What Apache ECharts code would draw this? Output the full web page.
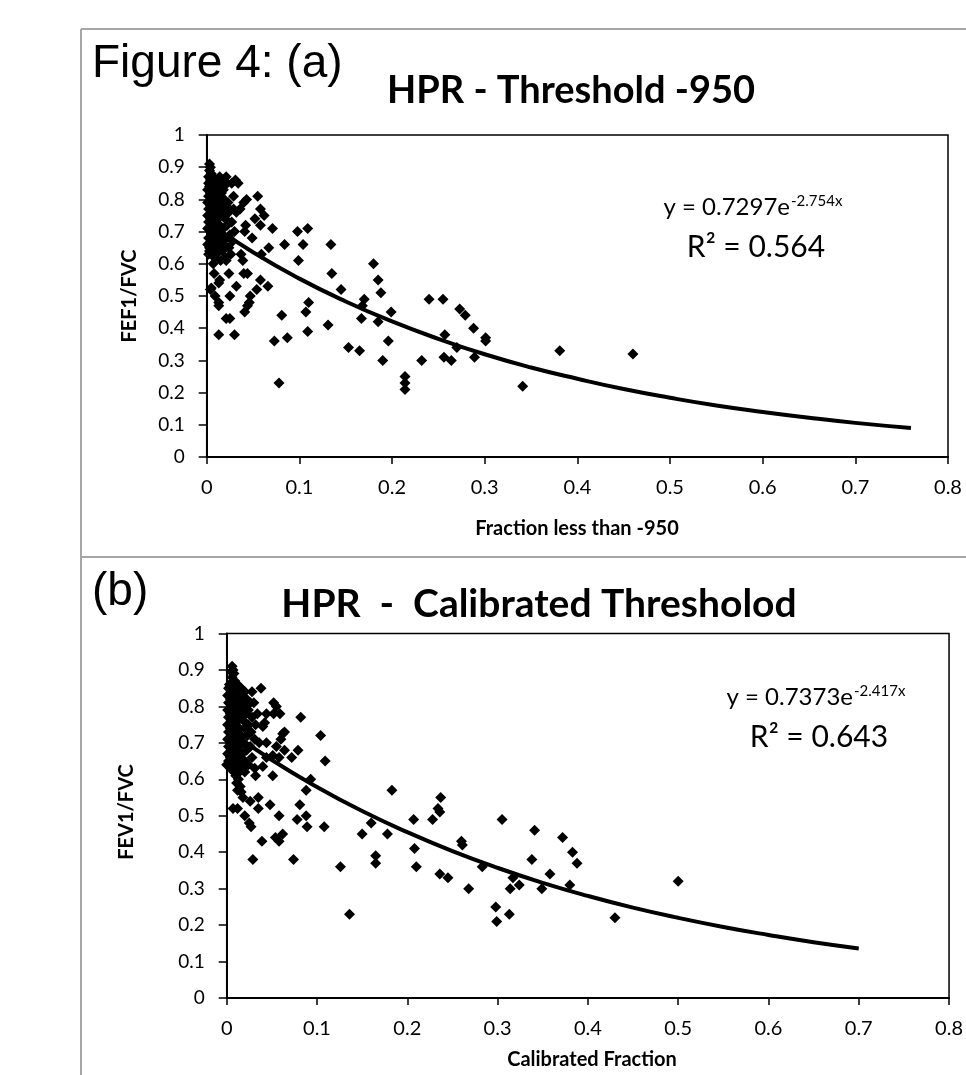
<!DOCTYPE html>
<html><head><meta charset="utf-8">
<script src="https://cdn.jsdelivr.net/npm/echarts@6/dist/echarts.min.js"></script>
<style>html,body{margin:0;padding:0;background:#fff}#c{width:966px;height:1075px}</style>
</head><body><div id="c"></div>
<script>
// ---------- DATA ----------
const titleA = 'HPR - Threshold -950';
const titleB = 'HPR  -  Calibrated Thresholod';
const xNameA = 'Fraction less than -950';
const xNameB = 'Calibrated Fraction';
const yNameA = 'FEF1/FVC';
const yNameB = 'FEV1/FVC';
const eqA = ['y = 0.7297e', '-2.754x', 'R² = 0.564'];
const eqB = ['y = 0.7373e', '-2.417x', 'R² = 0.643'];

// Panel (a) scatter points [fraction, FEF1/FVC]
const pointsA = [
  [0.003,0.91],[0.004,0.90],[0.003,0.89],[0.005,0.88],[0.002,0.87],[0.006,0.87],[0.004,0.86],[0.008,0.86],
  [0.002,0.85],[0.007,0.85],[0.011,0.85],[0.003,0.84],[0.009,0.84],[0.013,0.84],[0.001,0.83],[0.006,0.83],
  [0.012,0.83],[0.004,0.82],[0.010,0.82],[0.016,0.82],[0.002,0.81],[0.008,0.81],[0.014,0.81],[0.005,0.80],
  [0.011,0.80],[0.019,0.80],[0.001,0.79],[0.007,0.79],[0.015,0.79],[0.004,0.78],[0.010,0.78],[0.021,0.78],
  [0.002,0.77],[0.008,0.77],[0.013,0.77],[0.018,0.77],[0.005,0.76],[0.011,0.76],[0.024,0.76],[0.001,0.75],
  [0.007,0.75],[0.016,0.75],[0.004,0.74],[0.012,0.74],[0.020,0.74],[0.002,0.73],[0.009,0.73],[0.027,0.73],
  [0.006,0.72],[0.014,0.72],[0.022,0.72],[0.001,0.71],[0.010,0.71],[0.018,0.71],[0.004,0.70],[0.012,0.70],
  [0.030,0.70],[0.007,0.69],[0.017,0.69],[0.025,0.69],[0.002,0.68],[0.011,0.68],[0.021,0.68],[0.005,0.67],
  [0.015,0.67],[0.028,0.67],[0.001,0.66],[0.009,0.66],[0.019,0.66],[0.003,0.65],[0.013,0.65],[0.024,0.65],
  [0.006,0.64],[0.017,0.64],[0.002,0.63],[0.010,0.63],[0.008,0.62],[0.020,0.62],[0.015,0.61],[0.003,0.64],
  [0.014,0.87],[0.018,0.86],[0.022,0.85],
  [0.055,0.81],[0.058,0.77],[0.062,0.75],[0.052,0.74],[0.058,0.72],[0.042,0.72],[0.041,0.70],[0.071,0.71],
  [0.049,0.68],[0.067,0.65],[0.059,0.63],[0.084,0.66],[0.098,0.70],[0.109,0.71],[0.104,0.66],[0.099,0.61],
  [0.134,0.66],[0.135,0.57],[0.145,0.52],[0.180,0.60],[0.185,0.55],[0.188,0.51],[0.170,0.49],[0.168,0.47],
  [0.167,0.43],[0.185,0.42],[0.199,0.45],[0.196,0.36],[0.190,0.30],[0.153,0.34],[0.165,0.33],[0.131,0.41],
  [0.109,0.39],[0.107,0.45],[0.110,0.48],[0.081,0.44],[0.087,0.37],[0.073,0.36],[0.078,0.23],[0.066,0.53],
  [0.058,0.55],[0.054,0.52],[0.047,0.50],[0.046,0.48],[0.044,0.47],[0.041,0.45],[0.039,0.61],[0.037,0.63],
  [0.040,0.57],[0.044,0.57],[0.032,0.53],[0.025,0.50],[0.025,0.43],[0.021,0.43],[0.030,0.38],[0.013,0.38],
  [0.013,0.47],[0.013,0.48],[0.009,0.50],[0.004,0.52],[0.005,0.525],[0.013,0.54],[0.014,0.55],[0.024,0.57],
  [0.026,0.63],[0.021,0.61],[0.007,0.60],[0.008,0.57],[0.021,0.87],[0.027,0.85],[0.034,0.85],[0.031,0.86],
  [0.029,0.81],[0.043,0.80],[0.040,0.79],[0.036,0.77],[0.032,0.76],[0.029,0.77],[0.018,0.83],[0.016,0.845],
  [0.023,0.79],
  [0.240,0.49],[0.255,0.49],[0.257,0.38],[0.270,0.34],[0.273,0.46],[0.279,0.44],[0.288,0.40],[0.301,0.37],
  [0.301,0.36],[0.289,0.31],[0.264,0.30],[0.256,0.31],[0.232,0.30],[0.214,0.25],[0.214,0.23],[0.214,0.21],
  [0.341,0.22],[0.381,0.33],[0.460,0.32]
];

// Panel (b) scatter points [calibrated fraction, FEV1/FVC]
const pointsB = [
  [0.006,0.91],[0.007,0.90],[0.005,0.895],[0.008,0.89],[0.006,0.88],[0.009,0.87],[0.003,0.86],[0.007,0.86],
  [0.012,0.86],[0.002,0.85],[0.010,0.85],[0.016,0.85],[0.005,0.84],[0.013,0.84],[0.020,0.84],[0.001,0.83],
  [0.008,0.83],[0.017,0.83],[0.004,0.82],[0.011,0.82],[0.022,0.82],[0.002,0.81],[0.009,0.81],[0.015,0.81],
  [0.026,0.81],[0.006,0.80],[0.013,0.80],[0.020,0.80],[0.030,0.81],[0.001,0.79],[0.010,0.79],[0.017,0.79],
  [0.024,0.79],[0.004,0.78],[0.012,0.78],[0.021,0.78],[0.034,0.78],[0.002,0.77],[0.008,0.77],[0.015,0.77],
  [0.028,0.77],[0.005,0.76],[0.012,0.76],[0.019,0.76],[0.001,0.75],[0.009,0.75],[0.024,0.75],[0.032,0.75],
  [0.004,0.74],[0.014,0.74],[0.020,0.74],[0.002,0.73],[0.010,0.73],[0.027,0.73],[0.006,0.72],[0.016,0.72],
  [0.023,0.72],[0.001,0.71],[0.012,0.71],[0.031,0.71],[0.004,0.70],[0.009,0.70],[0.019,0.70],[0.036,0.70],
  [0.002,0.69],[0.014,0.69],[0.026,0.69],[0.006,0.68],[0.011,0.68],[0.022,0.68],[0.001,0.67],[0.008,0.67],
  [0.017,0.67],[0.004,0.66],[0.012,0.66],[0.028,0.66],[0.002,0.65],[0.009,0.65],[0.020,0.65],[0.000,0.64],
  [0.006,0.64],[0.015,0.64],[0.004,0.63],[0.011,0.63],[0.018,0.63],[0.008,0.62],[0.014,0.62],[0.010,0.61],
  [0.013,0.60],[0.011,0.59],[0.015,0.58],[0.012,0.57],[0.016,0.565],[0.020,0.62],[0.024,0.64],
  [0.038,0.85],[0.028,0.84],[0.018,0.845],[0.052,0.81],[0.055,0.80],[0.059,0.78],[0.052,0.78],[0.044,0.78],
  [0.082,0.77],[0.042,0.755],[0.040,0.745],[0.064,0.73],[0.062,0.725],[0.060,0.71],[0.044,0.70],[0.055,0.69],
  [0.064,0.68],[0.079,0.68],[0.104,0.72],[0.109,0.65],[0.072,0.66],[0.058,0.66],[0.051,0.665],[0.044,0.66],
  [0.040,0.635],[0.031,0.63],[0.032,0.61],[0.051,0.61],[0.093,0.60],[0.088,0.57],[0.081,0.53],[0.078,0.49],
  [0.088,0.50],[0.089,0.47],[0.108,0.47],[0.183,0.57],[0.058,0.50],[0.062,0.45],[0.058,0.43],[0.054,0.44],
  [0.048,0.53],[0.035,0.55],[0.035,0.52],[0.026,0.54],[0.025,0.48],[0.027,0.47],[0.020,0.50],[0.018,0.55],
  [0.007,0.52],[0.012,0.52],[0.039,0.43],[0.029,0.38],[0.074,0.38],[0.126,0.36],[0.136,0.23],[0.150,0.45],
  [0.160,0.48],[0.165,0.39],[0.165,0.37],[0.178,0.45],[0.207,0.49],[0.208,0.41],[0.210,0.36],[0.228,0.49],
  [0.234,0.52],[0.236,0.51],[0.237,0.55],[0.236,0.34],[0.245,0.33],[0.260,0.43],[0.261,0.42],[0.268,0.30],
  [0.283,0.36],[0.298,0.25],[0.299,0.21],[0.305,0.49],[0.313,0.23],[0.314,0.30],[0.317,0.33],[0.324,0.31],
  [0.338,0.38],[0.341,0.46],[0.349,0.30],[0.358,0.34],[0.372,0.44],[0.380,0.31],[0.383,0.40],[0.388,0.37],
  [0.430,0.22],[0.500,0.32]
];

// Exponential trendlines as drawn
const trendAX = [0,0.05,0.1,0.15,0.2,0.25,0.3,0.35,0.4,0.45,0.5,0.55,0.6,0.65,0.7,0.76];
const trendAY = [0.730,0.636,0.554,0.483,0.421,0.367,0.319,0.278,0.243,0.211,0.184,0.160,0.140,0.122,0.106,0.090];
const trendBX = [0,0.05,0.1,0.15,0.2,0.25,0.3,0.35,0.4,0.45,0.5,0.55,0.6,0.65,0.7];
const trendBY = [0.737,0.653,0.579,0.513,0.455,0.403,0.357,0.316,0.280,0.248,0.220,0.195,0.173,0.153,0.136];

// Axis ranges / ticks
const xMin = 0, xMax = 0.8, xStep = 0.1;
const yMin = 0, yMax = 1, yStep = 0.1;

// ---------- CHART ----------
const chart = echarts.init(document.getElementById('c'), null, {renderer:'canvas'});
const fmt = v => String(Math.round(v*10)/10);
const LATO = 'Lato, "Open Sans", sans-serif';
const ARIAL = '"Liberation Sans", Arial, sans-serif';

function xAx(g){
  return {type:'value', gridIndex:g, min:xMin, max:xMax, interval:xStep,
    axisLine:{show:true, onZero:false, lineStyle:{color:'#000', width:2}},
    axisTick:{show:true, length:7, lineStyle:{color:'#000', width:1.5}},
    axisLabel:{color:'#000', fontFamily:LATO, fontSize:20, margin:21, formatter:fmt},
    splitLine:{show:false}};
}
function yAx(g){
  return {type:'value', gridIndex:g, min:yMin, max:yMax, interval:yStep,
    axisLine:{show:true, onZero:false, lineStyle:{color:'#000', width:2}},
    axisTick:{show:true, length:8, lineStyle:{color:'#000', width:1.5}},
    axisLabel:{color:'#000', fontFamily:LATO, fontSize:19, margin:22, formatter:fmt},
    splitLine:{show:false}};
}
function txt(x, y, text, font, align, rot){
  return {type:'text', x:x, y:y, rotation:rot||0, z:100,
    style:{text:text, font:font, fill:'#000', align:align||'center', textAlign:align||'center',
           verticalAlign:'middle', textVerticalAlign:'middle'}};
}
const gray = '#a6a6a6';
const graphic = [
  {type:'line', shape:{x1:81, y1:29, x2:966, y2:29}, style:{stroke:gray, lineWidth:2}},
  {type:'line', shape:{x1:81, y1:29, x2:81, y2:1075}, style:{stroke:gray, lineWidth:2}},
  {type:'line', shape:{x1:81, y1:557, x2:966, y2:557}, style:{stroke:gray, lineWidth:2}},
  txt(92, 64, 'Figure 4: (a)', '46px ' + ARIAL, 'left'),
  txt(92, 592, '(b)', '46px ' + ARIAL, 'left'),
  txt(571, 91, titleA, 'bold 38px ' + LATO),
  txt(539, 604, titleB, 'bold 39px ' + LATO),
  txt(577, 529, xNameA, 'bold 20px ' + LATO),
  txt(592, 1060, xNameB, 'bold 20px ' + LATO),
  txt(130, 296, yNameA, 'bold 20px ' + LATO, 'center', Math.PI/2),
  txt(127, 812, yNameB, 'bold 20px ' + LATO, 'center', Math.PI/2),
  txt(790, 207, eqA[0], '24px ' + LATO, 'right'),
  txt(791, 201, eqA[1], '15px ' + LATO, 'left'),
  txt(756, 247, eqA[2], '30px ' + LATO),
  txt(853, 697, eqB[0], '24px ' + LATO, 'right'),
  txt(854, 691, eqB[1], '15px ' + LATO, 'left'),
  txt(819, 737, eqB[2], '30px ' + LATO)
];

const mk = {color:'#000', opacity:1};
chart.setOption({
  animation:false,
  backgroundColor:'#fff',
  grid:[
    {left:206.7, top:135, width:741.3, height:322, show:true, borderColor:'#000', borderWidth:1.5, backgroundColor:'transparent'},
    {left:226.7, top:633.5, width:731.3, height:364.5, show:true, borderColor:'#000', borderWidth:1.5, backgroundColor:'transparent'}
  ],
  xAxis:[xAx(0), xAx(1)],
  yAxis:[yAx(0), yAx(1)],
  series:[
    {type:'line', xAxisIndex:0, yAxisIndex:0, data:trendAX.map((x,i)=>[x,trendAY[i]]), smooth:true, symbol:'none',
      lineStyle:{color:'#000', width:4}, z:2},
    {type:'scatter', xAxisIndex:0, yAxisIndex:0, data:pointsA, symbol:'diamond', symbolSize:11, itemStyle:mk, z:3},
    {type:'line', xAxisIndex:1, yAxisIndex:1, data:trendBX.map((x,i)=>[x,trendBY[i]]), smooth:true, symbol:'none',
      lineStyle:{color:'#000', width:4}, z:2},
    {type:'scatter', xAxisIndex:1, yAxisIndex:1, data:pointsB, symbol:'diamond', symbolSize:11, itemStyle:mk, z:3}
  ],
  graphic:graphic
});
</script>
</body></html>
